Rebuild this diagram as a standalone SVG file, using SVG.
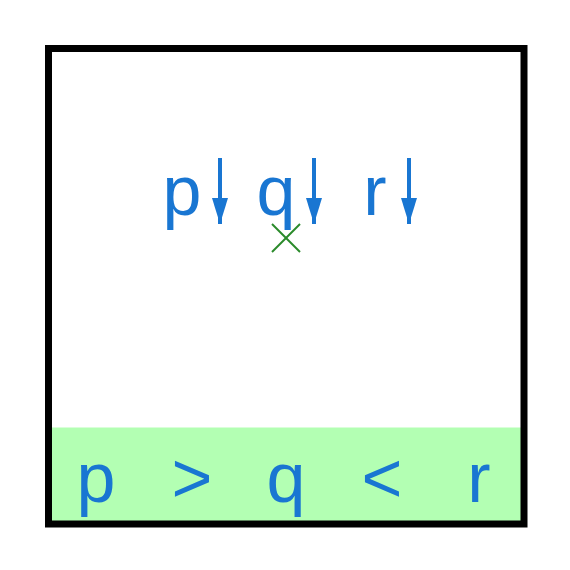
<svg xmlns="http://www.w3.org/2000/svg" width="570" height="570" viewBox="0 0 570 570">
<style>
.t{font-family:"Liberation Sans",Arial,sans-serif;font-size:70px;fill:#1976d2;text-anchor:middle}
.a{stroke:#1976d2;stroke-width:4;fill:none}
</style>
<defs>
<marker id="ah" viewBox="0 0 26 16" refX="26" refY="8" markerWidth="26" markerHeight="16" markerUnits="userSpaceOnUse" orient="auto">
<path d="M0,0 L26,8 L0,16 Z" fill="#1976d2"/>
</marker>
</defs>
<rect width="570" height="570" fill="#fff"/>
<rect x="52" y="427.5" width="469" height="93.5" fill="#b3ffb3"/>
<rect x="48.5" y="48.5" width="475.5" height="475.5" fill="none" stroke="#000" stroke-width="7"/>
<g id="top-p"><text class="t" x="182" y="215">p</text></g>
<g id="top-q"><text class="t" x="276" y="215">q</text></g>
<g id="top-r"><text class="t" x="375" y="215">r</text></g>
<g id="connectors">
<path class="a" d="M220,158 V224" marker-end="url(#ah)"/>
<path class="a" d="M314,158 V224" marker-end="url(#ah)"/>
<path class="a" d="M409,158 V224" marker-end="url(#ah)"/>
</g>
<g id="cross" stroke="#2a8a2a" stroke-width="2">
<line x1="272" y1="224" x2="300" y2="252"/>
<line x1="300" y1="224" x2="272" y2="252"/>
</g>
<g id="bottom">
<text class="t" x="96" y="502">p</text>
<text class="t" x="192" y="502">&gt;</text>
<text class="t" x="286" y="502">q</text>
<text class="t" x="382" y="502">&lt;</text>
<text class="t" x="479" y="502">r</text>
</g>
</svg>
